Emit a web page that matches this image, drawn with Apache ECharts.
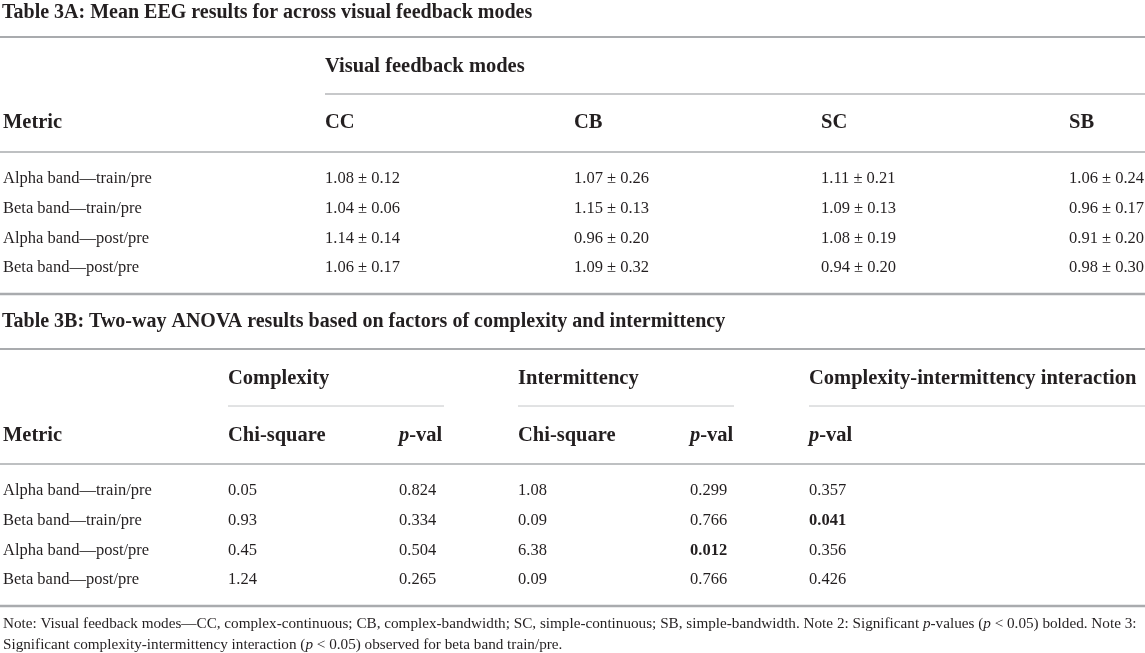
<!DOCTYPE html>
<html>
<head>
<meta charset="utf-8">
<script src="https://cdn.jsdelivr.net/npm/echarts@6/dist/echarts.min.js"></script>
<style>
html,body{margin:0;padding:0;background:#fff;}
#chart{width:1145px;height:653px;}
</style>
</head>
<body>
<div id="chart"></div>
<script>
// ---------------- DATA ----------------
const titleA = 'Table 3A: Mean EEG results for across visual feedback modes';
const titleB = 'Table 3B: Two-way ANOVA results based on factors of complexity and intermittency';
const metrics = ['Alpha band—train/pre', 'Beta band—train/pre', 'Alpha band—post/pre', 'Beta band—post/pre'];
const modeGroup = 'Visual feedback modes';
const modes = ['CC', 'CB', 'SC', 'SB'];
const meanCC = [1.08, 1.04, 1.14, 1.06];
const sdCC   = [0.12, 0.06, 0.14, 0.17];
const meanCB = [1.07, 1.15, 0.96, 1.09];
const sdCB   = [0.26, 0.13, 0.20, 0.32];
const meanSC = [1.11, 1.09, 1.08, 0.94];
const sdSC   = [0.21, 0.13, 0.19, 0.20];
const meanSB = [1.06, 0.96, 0.91, 0.98];
const sdSB   = [0.24, 0.17, 0.20, 0.30];

const factorGroups = ['Complexity', 'Intermittency', 'Complexity-intermittency interaction'];
const complexityChi = [0.05, 0.93, 0.45, 1.24];
const complexityP   = [0.824, 0.334, 0.504, 0.265];
const intermitChi   = [1.08, 0.09, 6.38, 0.09];
const intermitP     = [0.299, 0.766, 0.012, 0.766];
const interactionP  = [0.357, 0.041, 0.356, 0.426];
const alpha = 0.05;

const noteLines = [
  'Note: Visual feedback modes—CC, complex-continuous; CB, complex-bandwidth; SC, simple-continuous; SB, simple-bandwidth. Note 2: Significant {i|p}-values ({i|p} < 0.05) bolded. Note 3:',
  'Significant complexity-intermittency interaction ({i|p} < 0.05) observed for beta band train/pre.'
];

// ---------------- LAYOUT ----------------
const W = 1145, H = 653;
const L = {
  textX: 3,
  titleAY: 13, ruleTopA: 37, groupAY: 67, subRuleA: 94, headAY: 123, ruleHeadA: 152,
  rowsA: [179, 209, 239, 268], ruleEndA: 294,
  colA: [325, 574, 821, 1069],
  titleBY: 322, ruleTopB: 349, groupBY: 379, subRuleB: 406, headBY: 436, ruleHeadB: 464,
  rowsB: [491, 521, 551, 580], ruleEndB: 606,
  colB: [228, 399, 518, 690, 809],
  groupSpanB: [[228, 444], [518, 734], [809, 1145]],
  notesY: [624, 645]
};
const INK = '#231f20';
const FONT = '"Liberation Serif", "DejaVu Serif", serif';
const STYLES = {
  title: { fontSize: 20, fontWeight: 'bold' },
  head:  { fontSize: 20.5, fontWeight: 'bold' },
  body:  { fontSize: 16.5, fontWeight: 'normal' },
  bodyB: { fontSize: 16.5, fontWeight: 'bold' },
  note:  { fontSize: 15.2, fontWeight: 'normal' }
};

// ---------------- BUILD CELLS ----------------
const cells = [];
function cell(x, y, text, st) { cells.push({ x: x, y: y, text: text, st: st }); }
const fmtMS = (m, s) => m.toFixed(2) + ' ± ' + s.toFixed(2);
const pText = '{bi|p}-val';

cell(L.textX - 1, L.titleAY, titleA, 'title');
cell(L.colA[0], L.groupAY, modeGroup, 'head');
cell(L.textX, L.headAY, 'Metric', 'head');
modes.forEach((m, j) => cell(L.colA[j], L.headAY, m, 'head'));
const meansA = [meanCC, meanCB, meanSC, meanSB];
const sdsA = [sdCC, sdCB, sdSC, sdSB];
metrics.forEach((name, i) => {
  cell(L.textX, L.rowsA[i], name, 'body');
  meansA.forEach((arr, j) => cell(L.colA[j], L.rowsA[i], fmtMS(arr[i], sdsA[j][i]), 'body'));
});

cell(L.textX - 1, L.titleBY, titleB, 'title');
cell(L.colB[0], L.groupBY, factorGroups[0], 'head');
cell(L.colB[2], L.groupBY, factorGroups[1], 'head');
cell(L.colB[4], L.groupBY, factorGroups[2], 'head');
cell(L.textX, L.headBY, 'Metric', 'head');
cell(L.colB[0], L.headBY, 'Chi-square', 'head');
cell(L.colB[1], L.headBY, pText, 'head');
cell(L.colB[2], L.headBY, 'Chi-square', 'head');
cell(L.colB[3], L.headBY, pText, 'head');
cell(L.colB[4], L.headBY, pText, 'head');
const colsB = [
  { v: complexityChi, d: 2, p: false },
  { v: complexityP, d: 3, p: true },
  { v: intermitChi, d: 2, p: false },
  { v: intermitP, d: 3, p: true },
  { v: interactionP, d: 3, p: true }
];
metrics.forEach((name, i) => {
  cell(L.textX, L.rowsB[i], name, 'body');
  colsB.forEach((c, j) => {
    const val = c.v[i];
    cell(L.colB[j], L.rowsB[i], val.toFixed(c.d), (c.p && val < alpha) ? 'bodyB' : 'body');
  });
});
noteLines.forEach((t, k) => cell(L.textX, L.notesY[k], t, 'note'));

// rules
const rules = [
  { x1: 0, x2: W, y: L.ruleTopA, w: 2, c: '#a9abae' },
  { x1: L.colA[0], x2: W, y: L.subRuleA, w: 1.5, c: '#b4b6b9' },
  { x1: 0, x2: W, y: L.ruleHeadA, w: 1.5, c: '#a9abae' },
  { x1: 0, x2: W, y: L.ruleEndA, w: 2.5, c: '#a9abae' },
  { x1: 0, x2: W, y: L.ruleTopB, w: 2, c: '#a9abae' },
  { x1: L.groupSpanB[0][0], x2: L.groupSpanB[0][1], y: L.subRuleB, w: 1, c: '#c4c6c8' },
  { x1: L.groupSpanB[1][0], x2: L.groupSpanB[1][1], y: L.subRuleB, w: 1, c: '#c4c6c8' },
  { x1: L.groupSpanB[2][0], x2: L.groupSpanB[2][1], y: L.subRuleB, w: 1, c: '#c4c6c8' },
  { x1: 0, x2: W, y: L.ruleHeadB, w: 1.5, c: '#a9abae' },
  { x1: 0, x2: W, y: L.ruleEndB, w: 2.5, c: '#a9abae' }
];

const chart = echarts.init(document.getElementById('chart'), null, { renderer: 'canvas' });
chart.setOption({
  backgroundColor: '#ffffff',
  animation: false,
  grid: { left: 0, right: 0, top: 0, bottom: 0, containLabel: false },
  xAxis: { type: 'value', min: 0, max: W, show: false },
  yAxis: { type: 'value', min: 0, max: H, inverse: true, show: false },
  series: [
    {
      type: 'custom',
      silent: true,
      data: rules.map(r => [r.x1, r.y]),
      renderItem: function (params, api) {
        const r = rules[params.dataIndex];
        const p1 = api.coord([r.x1, r.y]);
        const p2 = api.coord([r.x2, r.y]);
        return {
          type: 'line',
          shape: { x1: p1[0], y1: p1[1], x2: p2[0], y2: p2[1] },
          style: { stroke: r.c, lineWidth: r.w }
        };
      }
    },
    {
      type: 'custom',
      silent: true,
      data: cells.map(c => [c.x, c.y]),
      renderItem: function (params, api) {
        const c = cells[params.dataIndex];
        const st = STYLES[c.st];
        const p = api.coord([c.x, c.y]);
        return {
          type: 'text',
          x: p[0],
          y: p[1],
          style: {
            text: c.text,
            fill: INK,
            fontFamily: FONT,
            fontSize: st.fontSize,
            fontWeight: st.fontWeight,
            align: 'left',
            verticalAlign: 'middle',
            rich: {
              i: { fontStyle: 'italic', fontFamily: FONT, fontSize: st.fontSize, fontWeight: st.fontWeight, fill: INK },
              bi: { fontStyle: 'italic', fontFamily: FONT, fontSize: st.fontSize, fontWeight: 'bold', fill: INK }
            }
          }
        };
      }
    }
  ]
});
</script>
</body>
</html>
